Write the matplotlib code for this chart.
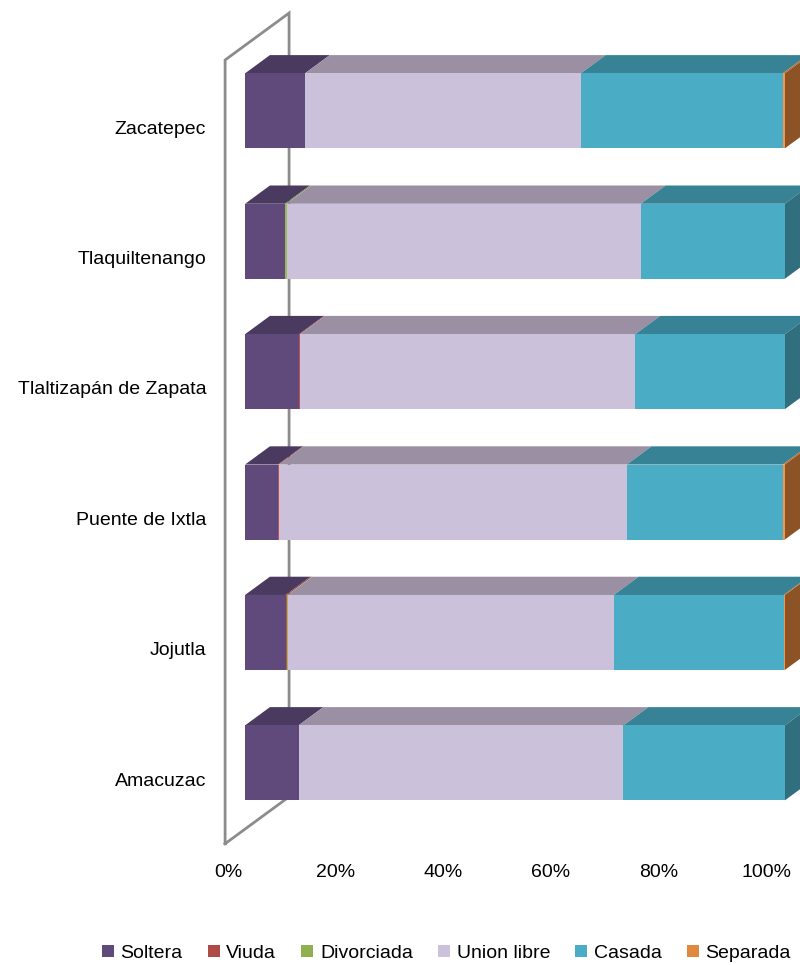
import matplotlib.pyplot as plt
import numpy as np
from matplotlib.patches import Polygon, Patch

plt.rcParams['font.family'] = ['Liberation Sans', 'DejaVu Sans']

municipios = ["Zacatepec", "Tlaquiltenango", "Tlaltizapán de Zapata",
              "Puente de Ixtla", "Jojutla", "Amacuzac"]
estados = ["Soltera", "Viuda", "Divorciada", "Union libre", "Casada", "Separada"]

soltera = [11.1, 7.4, 10.0, 6.1, 7.5, 9.9]
viuda = [0.0, 0.0, 0.2, 0.2, 0.3, 0.0]
divorciada = [0.0, 0.3, 0.0, 0.0, 0.1, 0.0]
union_libre = [51.1, 65.6, 62.1, 64.4, 60.4, 60.2]
casada = [37.4, 26.7, 27.7, 28.9, 31.5, 29.9]
separada = [0.4, 0.0, 0.0, 0.4, 0.2, 0.0]

ticks = [0, 20, 40, 60, 80, 100]

# front, top and side shades for each series
front = ["#604A7B", "#C0504D", "#9BBB59", "#CCC1DA", "#4BACC6", "#F79646"]
top = ["#4A3A5F", "#963E3B", "#7A9446", "#9A8FA3", "#378395", "#B86E33"]
side = ["#3F3252", "#80332F", "#66803A", "#8A8094", "#316F7F", "#8B5326"]
legend_col = ["#604A7B", "#B04A47", "#8FAF50", "#CCC1DA", "#4BACC6", "#E0883F"]

series = np.array([soltera, viuda, divorciada, union_libre, casada, separada])

fig = plt.figure(figsize=(8, 9.65), dpi=100)
ax = fig.add_axes([0, 0, 1, 1])
ax.set_xlim(-45.4, 102.8)
ax.set_ylim(6.55, -0.85)
ax.axis('off')

ypos = np.arange(len(municipios))
h = 0.575          # bar thickness
dx, dy = 4.6, -0.14  # bar depth offset

# back wall outline
wx, wdx, wdy = -3.7, 11.85, -0.36
wtop, wbot = -0.39, 5.62
ax.plot([wx, wx, wx + wdx, wx + wdx, wx],
        [wbot, wtop, wtop + wdy, wbot + wdy, wbot],
        color="#8C8C8C", lw=2, zorder=0, solid_joinstyle='miter')

left = np.zeros(len(municipios))
for j, vals in enumerate(series):
    vals = np.asarray(vals)
    for i in range(len(municipios)):
        if vals[i] <= 0:
            continue
        l, r = left[i], left[i] + vals[i]
        yt = ypos[i] - h / 2
        ax.add_patch(Polygon([(l, yt), (r, yt), (r + dx, yt + dy), (l + dx, yt + dy)],
                             closed=True, facecolor=top[j], edgecolor='none', zorder=2))
    ax.barh(ypos, vals, h, left=left, color=front[j], zorder=3)
    left += vals

# right side face takes the colour of the last non-empty segment
for i in range(len(municipios)):
    last = max(j for j in range(len(estados)) if series[j][i] > 0)
    yt, yb = ypos[i] - h / 2, ypos[i] + h / 2
    end = left[i]
    ax.add_patch(Polygon([(end, yt), (end + dx, yt + dy), (end + dx, yb + dy), (end, yb)],
                         closed=True, facecolor=side[last], edgecolor='none', zorder=2))

for i, name in enumerate(municipios):
    ax.text(-7.2, ypos[i] + 0.14, name, ha='right', va='center', fontsize=14)

for t in ticks:
    ax.text(t * 0.997 - 3.15, 5.84, f"{t}%", ha='center', va='center', fontsize=14)

handles = [Patch(facecolor=c, edgecolor='none') for c in legend_col]
fig.legend(handles, estados, loc='center', bbox_to_anchor=(0.558, 0.0124),
           ncol=6, frameon=False, fontsize=14, handlelength=0.6, handleheight=0.6,
           handletextpad=0.35, columnspacing=1.3)

fig.savefig("out.png", dpi=100)
